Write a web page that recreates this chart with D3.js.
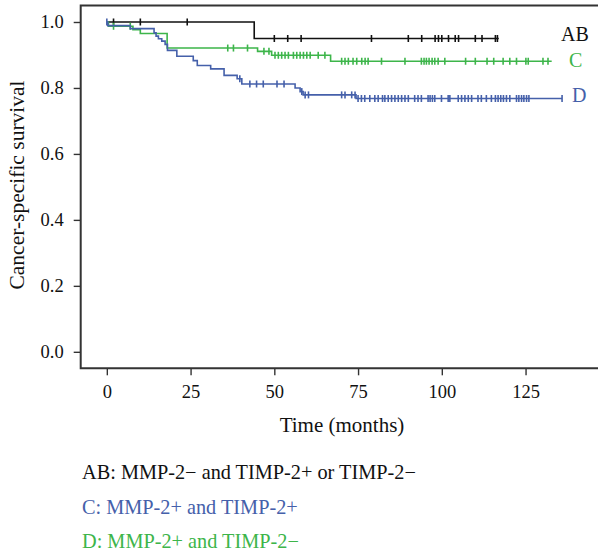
<!DOCTYPE html>
<html>
<head>
<meta charset="utf-8">
<script src="https://cdn.jsdelivr.net/npm/d3@7"></script>
<style>
  body { margin: 0; background: #fff; }
  svg { display: block; font-family: "Liberation Serif", "DejaVu Serif", serif; }
</style>
</head>
<body>
<svg id="chart" width="598" height="552"></svg>
<script>
// group AB: MMP-2- (black)
const abStepTimes = [44]
const abStepSurv = [0.95]
const abCensor = [2, 10, 24, 50, 54, 58, 79, 90, 94, 98, 99, 100, 102, 104, 105, 110, 112, 116, 116.6]
const abEnd = 117

// group C (green on the plot)
const cStepTimes = [0.5, 7.8, 10, 18, 45, 49.2, 66.8]
const cStepSurv = [0.987, 0.977, 0.965, 0.921, 0.911, 0.899, 0.881]
const cCensor = [2, 7, 36.1, 37.8, 42, 46.9, 48.4, 50.2, 51.2, 52.2, 53.2, 54.2, 55.7, 56.7, 57.7, 58.7,
  59.7, 60.7, 63.1, 65.1, 70.1, 71.1, 72.1, 73.5, 74.6, 76.1, 77.1, 78, 82, 89, 93.9, 94.7, 95.4, 96.2,
  97.1, 97.9, 98.9, 100.9, 107.1, 110, 113.5, 115.5, 118.3, 120.3, 122.3, 125.1, 125.8, 130.2, 131.7]
const cEnd = 132.8

// group D (blue on the plot)
const dStepTimes = [0.3, 7, 14.1, 14.7, 15.4, 16.4, 17.4, 18.1, 20.9, 25.8, 27, 31, 35, 38.9, 40.3, 56.2, 57.7, 58.6, 74.4]
const dStepSurv = [0.989, 0.98, 0.967, 0.957, 0.949, 0.942, 0.932, 0.914, 0.896, 0.883, 0.868, 0.858, 0.838, 0.828, 0.812, 0.8, 0.789, 0.779, 0.768]
const dCensor = [0, 39.7, 42.7, 44.7, 46.7, 50.8, 52.9, 58.2, 59.2, 60.2, 70.1, 71.1, 73.1, 74.1, 75, 76, 77, 78.5,
  80, 81, 82.3, 83, 84, 85, 86, 87, 88, 89, 90, 91.9, 92.9, 93.9, 95.9, 96.5, 97.2, 97.9, 99.9, 101.9, 102.4,
  104.9, 105.9, 106.9, 107.9, 108.9, 110.8, 111.8, 113.3, 114.8, 116, 116.8, 117.6, 118.4, 119.3, 120.3,
  122.3, 123, 123.8, 124.5, 125.3, 126, 135.9]
const dEnd = 135.9

const xTicks = [0, 25, 50, 75, 100, 125]
const yTicks = [0, 0.2, 0.4, 0.6, 0.8, 1.0]

const legendLines = ["AB: MMP-2\u2212 and TIMP-2+ or TIMP-2\u2212", "C: MMP-2+ and TIMP-2+", "D: MMP-2+ and TIMP-2\u2212"]
const legendColors = ["#111", "#4560aa", "#3db54a"]

const black = "#111", green = "#3db54a", blue = "#4560aa"

const groups = [
  { name: "AB", times: abStepTimes, surv: abStepSurv, censor: abCensor, end: abEnd, color: black, lx: 561, ly: 41 },
  { name: "C", times: cStepTimes, surv: cStepSurv, censor: cCensor, end: cEnd, color: green, lx: 569, ly: 67 },
  { name: "D", times: dStepTimes, surv: dStepSurv, censor: dCensor, end: dEnd, color: blue, lx: 572, ly: 102 }
]

const svg = d3.select("#chart")

const mLeft = 80.7, mRight = 616, mTop = 5.5, mBottom = 368.3
const x = d3.scaleLinear().domain([-7.8, 152]).range([mLeft, mRight])
const y = d3.scaleLinear().domain([-0.05, 1.05]).range([mBottom, mTop])

// survival at time t from the step arrays
function survAt(g, t) {
  let s = 1
  g.times.forEach((tt, i) => { if (tt <= t) s = g.surv[i] })
  return s
}

// axes
const xAxis = d3.axisBottom(x).tickValues(xTicks).tickSize(7).tickPadding(10).tickFormat(d3.format("d"))
const yAxis = d3.axisLeft(y).tickValues(yTicks).tickSize(7).tickPadding(10).tickFormat(d3.format(".1f"))

const gx = svg.append("g").attr("transform", `translate(0,${mBottom})`).call(xAxis)
const gy = svg.append("g").attr("transform", `translate(${mLeft},0)`).call(yAxis)
gx.select(".domain").remove()
gy.select(".domain").remove()
svg.selectAll(".tick line").attr("stroke", "#333").attr("stroke-width", 1.4)
svg.selectAll(".tick text").attr("fill", "#111").style("font-size", "18.5px").style("font-family", "Liberation Serif, serif")

// frame
svg.append("path")
  .attr("d", `M${mRight},${mTop}H${mLeft}V${mBottom}H${mRight}`)
  .attr("fill", "none").attr("stroke", "#333").attr("stroke-width", 2)

// curves
const line = d3.line().x(d => x(d[0])).y(d => y(d[1])).curve(d3.curveStepAfter)
groups.forEach(g => {
  const pts = [[0, 1]]
  g.times.forEach((t, i) => pts.push([t, g.surv[i]]))
  pts.push([g.end, g.surv[g.surv.length - 1]])
  svg.append("path").datum(pts)
    .attr("d", line).attr("fill", "none")
    .attr("stroke", g.color).attr("stroke-width", 1.6)

  svg.append("g").selectAll("line").data(g.censor).enter().append("line")
    .attr("x1", d => x(d)).attr("x2", d => x(d))
    .attr("y1", d => y(survAt(g, d)) - 3.5)
    .attr("y2", d => y(survAt(g, d)) + 3.5)
    .attr("stroke", g.color).attr("stroke-width", 1.6)

  svg.append("text").attr("x", g.lx).attr("y", g.ly)
    .attr("fill", g.color).style("font-size", "20px").text(g.name)
})

// axis titles
svg.append("text").attr("x", 342).attr("y", 432).attr("text-anchor", "middle")
  .attr("fill", "#111").style("font-size", "21px").text("Time (months)")
svg.append("text").attr("transform", "translate(24,185) rotate(-90)").attr("text-anchor", "middle")
  .attr("fill", "#111").style("font-size", "21.5px").text("Cancer-specific survival")

// legend below
svg.append("g").selectAll("text").data(legendLines).enter().append("text")
  .attr("x", 82).attr("y", (d, i) => 479 + i * 34.5)
  .attr("fill", (d, i) => legendColors[i]).style("font-size", "20.3px")
  .text(d => d)
</script>
</body>
</html>
